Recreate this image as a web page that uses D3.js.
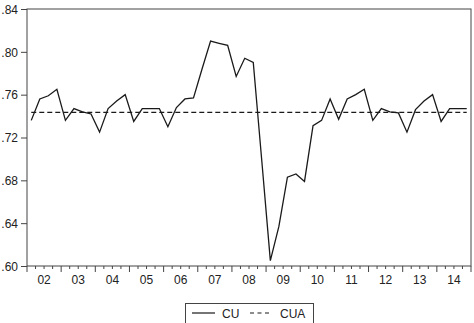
<!DOCTYPE html>
<html>
<head>
<meta charset="utf-8">
<script src="https://cdn.jsdelivr.net/npm/d3@7/dist/d3.min.js"></script>
<style>
  body { margin: 0; background: #fff; }
  text { font-family: "Liberation Sans", Arial, sans-serif; fill: #222; }
</style>
</head>
<body>
<svg id="chart" width="474" height="323"></svg>
<script>
// quarterly capacity utilisation, 2002Q1 .. 2014Q4
const years = ["02","03","04","05","06","07","08","09","10","11","12","13","14"]
const cu = [
	0.736, 0.756, 0.759, 0.765, 0.736, 0.747, 0.744, 0.742,
	0.725, 0.747, 0.754, 0.760, 0.735, 0.747, 0.747, 0.747,
	0.730, 0.748, 0.756, 0.757, 0.784, 0.810, 0.808, 0.806,
	0.777, 0.794, 0.790, 0.698, 0.605, 0.637, 0.683, 0.686,
	0.679, 0.731, 0.736, 0.756, 0.737, 0.756, 0.760, 0.765,
	0.736, 0.747, 0.744, 0.743, 0.725, 0.746, 0.754, 0.760,
	0.735, 0.747, 0.747, 0.747
]
const cua_value = 0.7435
const y_ticks = [0.60, 0.64, 0.68, 0.72, 0.76, 0.80, 0.84]

const svg = d3.select("#chart")
const plot_left = 27, plot_right = 471, plot_top = 9, plot_bottom = 266

const x = d3.scaleLinear().domain([0, cu.length]).range([plot_left, plot_right])
const y = d3.scaleLinear().domain([0.60, 0.84]).range([plot_bottom, plot_top])

// frame
svg.append("rect")
	.attr("x", plot_left).attr("y", plot_top)
	.attr("width", plot_right-plot_left).attr("height", plot_bottom-plot_top)
	.attr("fill", "none").attr("stroke", "#444").attr("stroke-width", 1)

// y axis
const yAxis = d3.axisLeft(y)
	.tickValues(y_ticks)
	.tickSize(6)
	.tickFormat(d => d3.format(".2f")(d).replace(/^0/, ""))
svg.append("g")
	.attr("transform", `translate(${plot_left},0)`)
	.call(yAxis)
	.call(g => g.select(".domain").remove())
	.call(g => g.selectAll("line").attr("stroke", "#444"))
	.call(g => g.selectAll("text").attr("font-size", 12).attr("fill", "#222").attr("x", -9).attr("dy", "0.35em"))

// x axis: minor ticks each quarter, major at year start
const quarters = d3.range(0, cu.length + 1)
svg.append("g").selectAll("line")
	.data(quarters)
	.join("line")
	.attr("x1", d => x(d)).attr("x2", d => x(d))
	.attr("y1", plot_bottom)
	.attr("y2", d => d % 4 == 0 ? plot_bottom + 6 : plot_bottom + 3)
	.attr("stroke", "#444")

svg.append("g").selectAll("text")
	.data(years)
	.join("text")
	.attr("x", (d, i) => x(i*4 + 2))
	.attr("y", 284)
	.attr("text-anchor", "middle")
	.attr("font-size", 12)
	.text(d => d)

// series
const line = d3.line()
	.x((d, i) => x(i + 0.5))
	.y(d => y(d))

svg.append("path")
	.datum(cu)
	.attr("d", line)
	.attr("fill", "none")
	.attr("stroke", "#1a1a1a")
	.attr("stroke-width", 1.3)

svg.append("line")
	.attr("x1", x(0.5)).attr("x2", x(cu.length - 0.5))
	.attr("y1", y(cua_value)).attr("y2", y(cua_value))
	.attr("stroke", "#1a1a1a")
	.attr("stroke-width", 1.2)
	.attr("stroke-dasharray", "5,3")

// legend
const lg = svg.append("g").classed("legend", true)
lg.append("rect")
	.attr("x", 185.5).attr("y", 303.5)
	.attr("width", 128).attr("height", 24)
	.attr("fill", "#fff").attr("stroke", "#444")
lg.append("line")
	.attr("x1", 192).attr("x2", 215).attr("y1", 313).attr("y2", 313)
	.attr("stroke", "#1a1a1a").attr("stroke-width", 1.2)
lg.append("text").attr("x", 222).attr("y", 317.5).attr("font-size", 12).text("CU")
lg.append("line")
	.attr("x1", 250).attr("x2", 271).attr("y1", 313).attr("y2", 313)
	.attr("stroke", "#1a1a1a").attr("stroke-width", 1.2)
	.attr("stroke-dasharray", "4,3.5")
lg.append("text").attr("x", 280).attr("y", 317.5).attr("font-size", 12).text("CUA")
</script>
</body>
</html>
